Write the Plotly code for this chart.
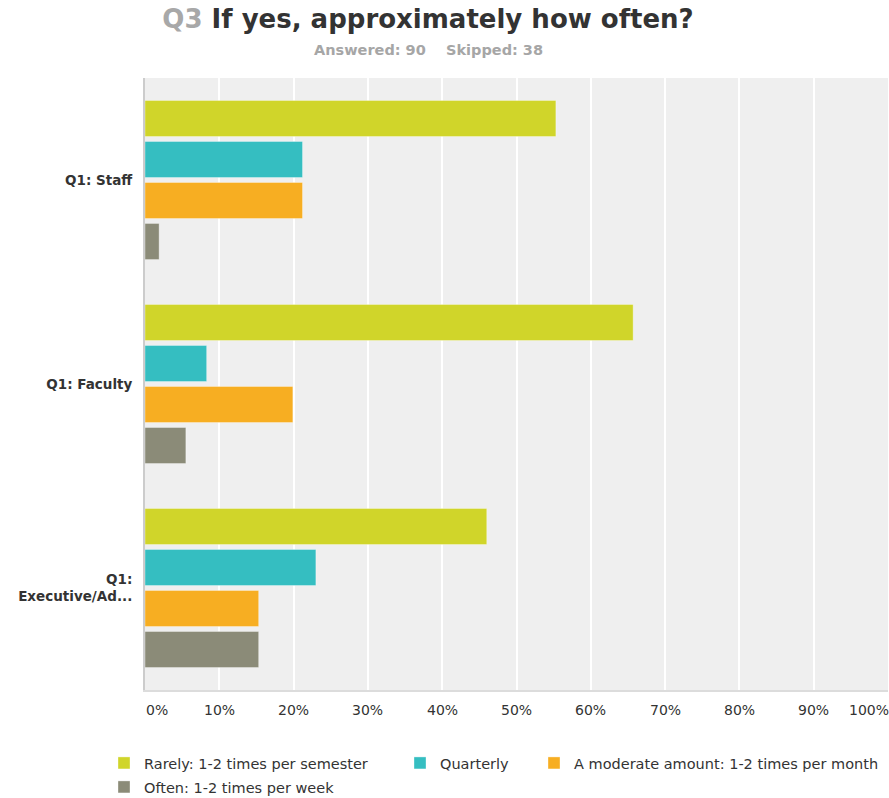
import plotly.graph_objects as go

categories = ["Q1: Staff", "Q1: Faculty", "Q1:<br>Executive/Ad..."]
series_names = [
    "Rarely: 1-2 times per semester",
    "Quarterly",
    "A moderate amount: 1-2 times per month",
    "Often: 1-2 times per week",
]
rarely = [55.3, 65.7, 46.0]
quarterly = [21.2, 8.3, 23.0]
moderate = [21.2, 19.9, 15.3]
often = [1.9, 5.5, 15.3]
series_values = [rarely, quarterly, moderate, often]
colors = ["#d0d52a", "#35bec1", "#f7ae22", "#8b8b78"]

tick_vals = [0, 10, 20, 30, 40, 50, 60, 70, 80, 90, 100]
tick_text = ["0%", "10%", "20%", "30%", "40%", "50%", "60%", "70%", "80%", "90%", "100%"]

FONT = "DejaVu Sans"

W, H = 889, 798
L, R, T, B = 145, 1, 78, 108
PH = H - T - B
PW = W - L - R


def py(px):
    # pixel y (from top of figure) -> paper coordinate
    return (H - B - px) / PH


def px_x(px):
    # pixel x (from left of figure) -> paper coordinate
    return (px - L) / PW


# legend item anchor positions (pixels): one legend per series
legend_pos = [(104, 747), (400, 747), (534, 747), (104, 771)]
legend_ids = ["legend", "legend2", "legend3", "legend4"]

fig = go.Figure()
for name, vals, col, lid in zip(series_names, series_values, colors, legend_ids):
    fig.add_trace(go.Bar(
        y=categories, x=vals, name=name, orientation="h", legend=lid,
        marker=dict(color=col, line=dict(color="rgba(255,255,255,0.35)", width=1)),
        hovertemplate="%{y}: %{x}%<extra>" + name + "</extra>",
    ))

legend_layout = {}
for lid, (lx, ly) in zip(legend_ids, legend_pos):
    legend_layout[lid] = dict(
        orientation="h", x=px_x(lx), xanchor="left",
        y=py(ly), yanchor="top",
        font=dict(family=FONT, size=14.5, color="#333333"),
        bgcolor="rgba(0,0,0,0)", borderwidth=0,
    )

fig.update_layout(
    width=W, height=H,
    margin=dict(l=L, r=R, t=T, b=B, autoexpand=False),
    paper_bgcolor="white",
    plot_bgcolor="#efefef",
    barmode="group",
    bargap=0.196,
    bargroupgap=0.12,
    font=dict(family=FONT, color="#333333"),
    title=dict(
        text="<span style='color:#a8a8a8'>Q3</span> If yes, approximately how often?",
        x=428 / W, xanchor="center", xref="container",
        y=1 - 19 / H, yanchor="middle", yref="container",
        font=dict(family=FONT, size=26, color="#333333", weight="bold"),
    ),
    xaxis=dict(
        range=[0, 100], tickvals=tick_vals, showticklabels=False,
        showgrid=True, gridcolor="white", gridwidth=2,
        zeroline=False, showline=True, linecolor="#dcdcdc", linewidth=2,
        fixedrange=True,
    ),
    yaxis=dict(
        autorange="reversed", showgrid=False, zeroline=False,
        showline=True, linecolor="#cccccc", linewidth=2,
        tickfont=dict(family=FONT, size=13.5, color="#333333", weight="bold"),
        ticks="", ticklabelstandoff=8,
    ),
    showlegend=True,
    **legend_layout,
)

for v, t in zip(tick_vals, tick_text):
    shift = 12 if v == 0 else (-19 if v == 100 else 0)
    fig.add_annotation(
        x=v, y=0, xref="x", yref="paper", text=t, showarrow=False,
        xanchor="center", yanchor="middle", yshift=-20, xshift=shift,
        font=dict(family=FONT, size=14, color="#333333"),
    )

fig.add_annotation(
    x=px_x(428), y=py(50), xref="paper", yref="paper",
    text="<b>Answered: 90&nbsp;&nbsp;&nbsp;&nbsp;Skipped: 38</b>",
    showarrow=False, xanchor="center", yanchor="middle",
    font=dict(family=FONT, size=14.5, color="#a6a6a6"),
)

fig.write_html(
    "out.html",
    config={"displayModeBar": False},
    post_script="document.body.style.margin='0px';document.body.style.overflow='hidden';",
)
